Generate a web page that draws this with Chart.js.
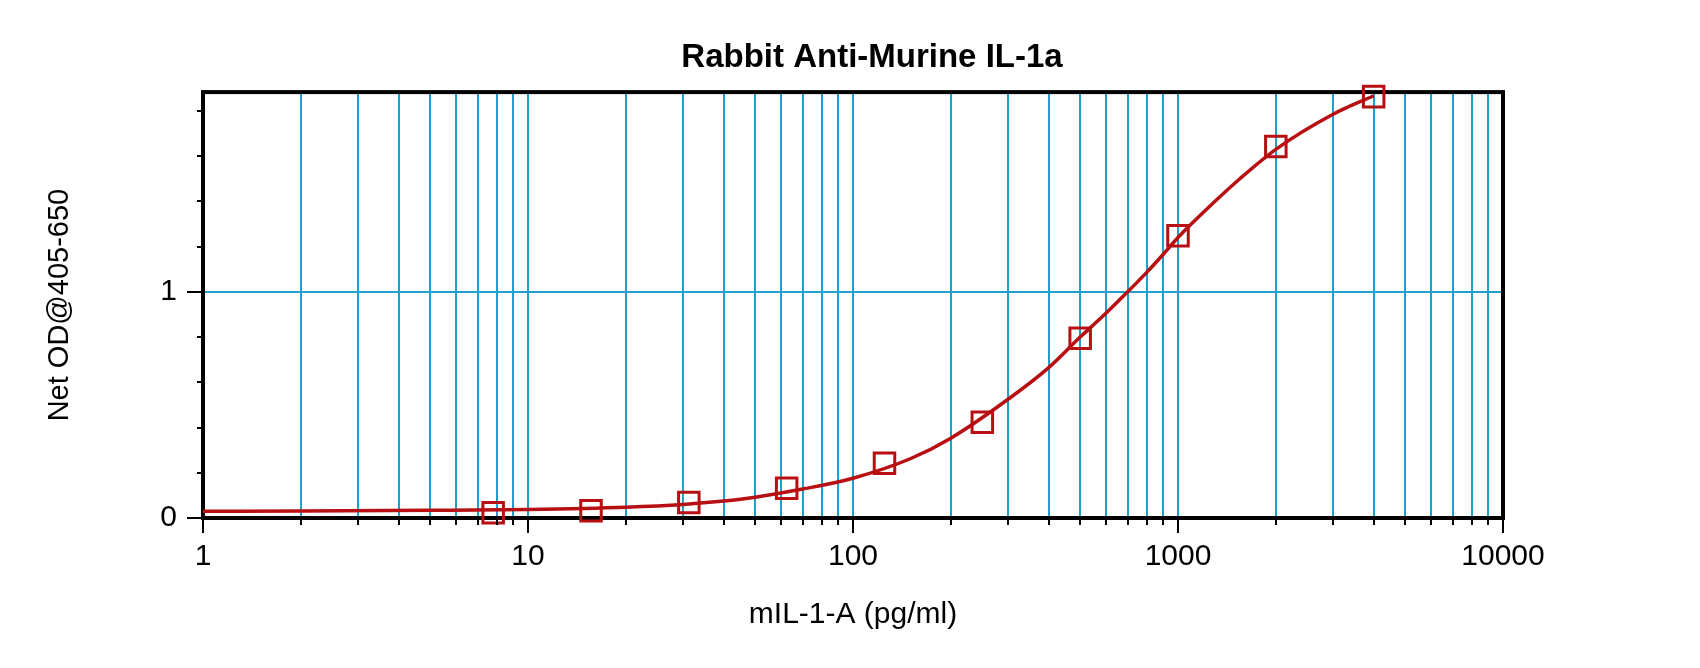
<!DOCTYPE html>
<html>
<head>
<meta charset="utf-8">
<script src="https://cdn.jsdelivr.net/npm/chart.js@4/dist/chart.umd.min.js"></script>
<style>
  html, body { margin: 0; padding: 0; background: #ffffff; }
  #wrap { width: 1700px; height: 668px; }
</style>
</head>
<body>
<div id="wrap"><canvas id="c" width="1700" height="668"></canvas></div>
<script>
// ---- data ----
const chartTitle = 'Rabbit Anti-Murine IL-1a';
const xAxisTitle = 'mIL-1-A (pg/ml)';
const yAxisTitle = 'Net OD@405-650';

// standards (measured points)
const stdConc = [7.8125, 15.625, 31.25, 62.5, 125, 250, 500, 1000, 2000, 4000];
const stdOD   = [0.023, 0.032, 0.069, 0.131, 0.242, 0.423, 0.795, 1.248, 1.642, 1.863];

// fitted curve
const curveConc = [1, 2, 5, 10, 20, 30, 40, 50, 70, 100, 150, 200, 300, 400, 500, 600, 700, 800, 900, 1000, 1300, 1550, 2000, 3000, 4000];
const curveOD   = [0.030, 0.031, 0.034, 0.038, 0.048, 0.060, 0.075, 0.092, 0.128, 0.176, 0.262, 0.353, 0.525, 0.665, 0.800, 0.905, 1.000, 1.085, 1.165, 1.240, 1.400, 1.500, 1.630, 1.785, 1.867];

// ticks
const xTickValues = [1, 2, 3, 4, 5, 6, 7, 8, 9,
                     10, 20, 30, 40, 50, 60, 70, 80, 90,
                     100, 200, 300, 400, 500, 600, 700, 800, 900,
                     1000, 2000, 3000, 4000, 5000, 6000, 7000, 8000, 9000,
                     10000];
const xLabelValues = [1, 10, 100, 1000, 10000];
const xLabelTexts  = ['1', '10', '100', '1000', '10000'];
const yTickValues  = [0, 0.2, 0.4, 0.6, 0.8, 1, 1.2, 1.4, 1.6, 1.8];
const yTickLabels  = ['0', '', '', '', '', '1', '', '', '', ''];
const yGridValues  = [1];
const xMin = 1, xMax = 10000, yMin = 0, yMax = 1.883;

// ---- styles ----
const FONT = "'Liberation Sans', Arial, Helvetica, sans-serif";
const RED = '#b80f12';
const GRID = '#1f9fcc';

const frameTicksPlugin = {
  id: 'frameTicks',
  afterLayout(chart) {
    // shift title so it sits slightly right of the plot centre, as in the original
    const tb = chart.titleBlock;
    const a = chart.chartArea;
    if (tb) {
      const cx = (a.left + a.right) / 2 + 19;
      tb.left = 2 * cx - tb.right;
    }
  },
  beforeDatasetsDraw(chart) {
    const {ctx, chartArea: a} = chart;
    ctx.save();
    ctx.strokeStyle = '#000';
    ctx.lineWidth = 4;
    ctx.strokeRect(a.left, a.top, a.right - a.left, a.bottom - a.top);
    ctx.restore();
  },
  afterDraw(chart) {
    const {ctx, chartArea: a, scales} = chart;
    ctx.save();
    ctx.strokeStyle = '#000';
    ctx.lineWidth = 2;
    ctx.beginPath();
    xTickValues.forEach(v => {
      const px = Math.round(scales.x.getPixelForValue(v));
      const len = xLabelValues.includes(v) ? 15 : 7;
      ctx.moveTo(px, a.bottom);
      ctx.lineTo(px, a.bottom + len);
    });
    yTickValues.forEach((v, i) => {
      const py = Math.round(scales.y.getPixelForValue(v));
      const len = yTickLabels[i] !== '' ? 16 : 6;
      ctx.moveTo(a.left, py);
      ctx.lineTo(a.left - len, py);
    });
    ctx.stroke();
    ctx.restore();
  }
};

new Chart(document.getElementById('c'), {
  type: 'line',
  data: {
    datasets: [
      {
        label: 'Standards',
        data: stdConc.map((x, i) => ({x: x, y: stdOD[i]})),
        showLine: false,
        pointStyle: 'rect',
        pointRadius: 14.5,
        pointHoverRadius: 14.5,
        pointBorderWidth: 3,
        pointBorderColor: RED,
        pointBackgroundColor: 'rgba(0,0,0,0)',
        clip: false
      },
      {
        label: 'Fit',
        data: curveConc.map((x, i) => ({x: x, y: curveOD[i]})),
        borderColor: RED,
        borderWidth: 3.5,
        pointRadius: 0,
        cubicInterpolationMode: 'monotone',
        fill: false
      }
    ]
  },
  options: {
    responsive: false,
    animation: false,
    devicePixelRatio: 1,
    layout: { padding: { left: 0, right: 197, top: 0, bottom: 0 } },
    plugins: {
      legend: { display: false },
      tooltip: { enabled: false },
      title: {
        display: true,
        text: chartTitle,
        color: '#000',
        font: { family: FONT, size: 33, weight: 'bold', lineHeight: 1.2 },
        padding: { top: 38.5, bottom: 14 }
      }
    },
    scales: {
      x: {
        type: 'logarithmic',
        min: xMin,
        max: xMax,
        afterBuildTicks: (s) => { s.ticks = xTickValues.map(v => ({value: v, major: xLabelValues.includes(v)})); },
        afterFit: (s) => { s.height = 150; },
        border: { display: false },
        grid: {
          color: GRID,
          lineWidth: 2,
          drawTicks: false
        },
        ticks: {
          autoSkip: false,
          maxRotation: 0,
          minRotation: 0,
          padding: 21,
          color: '#000',
          font: { family: FONT, size: 30 },
          callback: function (value, index, ticks) {
            const k = xLabelValues.indexOf(ticks[index].value);
            return k >= 0 ? xLabelTexts[k] : '';
          }
        },
        title: {
          display: true,
          text: xAxisTitle,
          color: '#000',
          font: { family: FONT, size: 30, lineHeight: 1.2 },
          padding: { top: 0, bottom: 35 }
        }
      },
      y: {
        type: 'linear',
        min: yMin,
        max: yMax,
        afterBuildTicks: (s) => { s.ticks = yTickValues.map(v => ({value: v})); },
        afterFit: (s) => { s.width = 203; },
        border: { display: false },
        grid: {
          color: (ctx) => (ctx.tick && yGridValues.includes(ctx.tick.value)) ? GRID : 'rgba(0,0,0,0)',
          lineWidth: 2,
          drawTicks: false
        },
        ticks: {
          autoSkip: false,
          padding: 26,
          color: '#000',
          font: { family: FONT, size: 30 },
          callback: function (value, index) { return yTickLabels[index]; }
        },
        title: {
          display: true,
          text: yAxisTitle,
          color: '#000',
          font: { family: FONT, size: 29, lineHeight: 1.2 },
          padding: { top: 42.6, bottom: 0 }
        }
      }
    }
  },
  plugins: [frameTicksPlugin]
});
</script>
</body>
</html>
